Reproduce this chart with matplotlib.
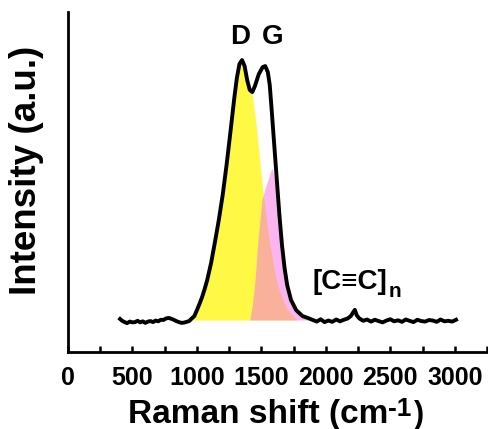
import numpy as np
import matplotlib
matplotlib.use("Agg")
import matplotlib.pyplot as plt
from matplotlib.ticker import MultipleLocator

plt.rcParams['font.family'] = ['Liberation Sans', 'DejaVu Sans']
plt.rcParams['font.weight'] = 'bold'

# measured Raman spectrum (a.u., peak = 100)
shift = [404, 420, 440, 458, 480, 500, 520, 540, 560, 580, 600, 620, 640, 660, 680,
         700, 720, 740, 760, 780, 800, 820, 840, 860, 880, 900, 920, 940, 960, 980,
         1000, 1020, 1040, 1060, 1080, 1110, 1140, 1170, 1200, 1230, 1260, 1290, 1310,
         1330, 1350, 1370, 1390, 1410, 1430, 1450, 1480, 1510, 1530, 1550, 1565, 1580,
         1600, 1620, 1640, 1660, 1680, 1700, 1730, 1770, 1820, 1860, 1900, 1930, 1960,
         1990, 2020, 2050, 2080, 2110, 2140, 2170, 2195, 2210, 2225, 2240, 2260, 2290,
         2320, 2350, 2380, 2410, 2440, 2470, 2500, 2530, 2560, 2590, 2620, 2650, 2680,
         2710, 2740, 2770, 2800, 2830, 2860, 2890, 2920, 2950, 2980, 3010]
intensity = [0.4, -0.3, -0.8, -1.2, -0.6, -0.9, -0.8, -0.3, -0.9, -0.5, -1.1, -0.6, -0.4,
             -0.8, -0.2, -0.5, 0.1, 0.0, 0.6, 0.8, 0.5, 0.1, -0.4, -0.8, -1.1, -1.0, -0.7,
             -0.4, 0.6, 1.5, 3.8, 6.2, 8.8, 11.9, 15.4, 21.9, 30.0, 38.5, 48.1, 59.6, 72.3,
             85.4, 93.1, 98.5, 100.0, 97.7, 92.3, 88.5, 87.7, 90.0, 94.6, 97.3, 97.7, 95.4,
             90.4, 80.8, 67.3, 53.8, 40.4, 28.8, 20.0, 13.5, 7.7, 3.8, 1.5, 0.8, 0.0, -0.6,
             0.3, -0.8, -0.2, -0.7, 0.2, -0.5, 0.1, 0.6, 1.6, 2.8, 3.9, 1.8, 0.6, -0.3,
             0.2, -0.6, 0.1, -0.4, -0.9, -0.2, 0.3, -0.5, -0.1, -0.7, 0.2, -0.3, -0.8,
             0.1, -0.4, -0.6, 0.0, -0.2, -0.7, 0.2, -0.5, -0.3, -0.6, 0.1]

# fitted D band
d_shift = [950, 980, 1000, 1020, 1040, 1060, 1080, 1110, 1140, 1170, 1200, 1230, 1260,
           1290, 1310, 1330, 1345, 1360, 1380, 1400, 1430, 1460, 1490, 1515, 1540, 1560,
           1590, 1620, 1660, 1700, 1740, 1780]
d_band = [0.0, 1.2, 3.5, 5.8, 8.5, 11.5, 15.0, 21.5, 29.6, 38.0, 47.7, 59.2, 71.9, 85.0,
          92.7, 98.0, 99.2, 98.5, 95.0, 90.0, 86.5, 75.0, 60.0, 48.0, 38.5, 31.0, 22.0,
          14.5, 8.5, 4.2, 1.8, 0.0]

# fitted G band
g_shift = [1410, 1430, 1451, 1474, 1505, 1530, 1550, 1570, 1583, 1600, 1620, 1640, 1660,
           1680, 1700, 1730, 1770, 1820, 1880]
g_band = [0.0, 5.8, 15.4, 30.8, 46.2, 50.8, 53.8, 57.0, 58.5, 55.0, 46.5, 36.0, 26.0,
          18.0, 12.0, 6.5, 3.0, 1.0, 0.0]

fig = plt.figure(figsize=(4.88, 4.29), dpi=100)
ax = fig.add_axes([0.1393, 0.1795, 0.8586, 0.7925])

ax.fill_between(d_shift, 0, d_band, color='#FFF845', lw=0)
ax.fill_between(g_shift, 0, g_band, color='#F677E4', alpha=0.55, lw=0)
ax.plot(shift, intensity, color='black', lw=2.8)

ax.text(1335, 108.8, "D", fontsize=20, fontweight='bold', ha='center', va='center')
ax.text(1590, 108.8, "G", fontsize=20, fontweight='bold', ha='center', va='center')
cc = ax.text(1895, 14.6, "[C≡C]", fontsize=20, fontweight='bold', ha='left', va='center')
ax.annotate("n", xy=(1, 0), xycoords=cc, xytext=(1, -4), textcoords='offset points',
            fontsize=15, fontweight='bold', ha='left', va='bottom')

ax.set_xlim(0, 3250)
ax.set_ylim(-12.3, 118.5)
ax.spines['top'].set_visible(False)
ax.spines['right'].set_visible(False)
for s in ('left', 'bottom'):
    ax.spines[s].set_linewidth(2)
ax.set_yticks([])
ax.xaxis.set_major_locator(MultipleLocator(500))
ax.xaxis.set_minor_locator(MultipleLocator(250))
ax.set_xticks(range(0, 3001, 500))
ax.tick_params(axis='x', which='both', direction='in', length=4.5, width=1.8,
               labelsize=18, pad=10)
for lab in ax.get_xticklabels():
    lab.set_fontweight('bold')

ax.set_ylabel("Intensity (a.u.)", fontsize=26.5, fontweight='bold', labelpad=17)
ax.yaxis.label.set_y(0.535)

# x label built from pieces so "-1" can be raised and smaller
fig.canvas.draw()
r = fig.canvas.get_renderer()
W, H = fig.get_size_inches() * fig.dpi
x0 = 128 / W
yb = 6 / H
t1 = fig.text(x0, yb, "Raman shift (cm", fontsize=24, fontweight='bold', va='baseline')
w1 = t1.get_window_extent(r).width / W
t2 = fig.text(x0 + w1, yb + 7 / H, "-1", fontsize=19, fontweight='bold', va='baseline')
w2 = t2.get_window_extent(r).width / W
fig.text(x0 + w1 + w2 + 2 / W, yb, ")", fontsize=22, fontweight='bold', va='baseline')

fig.savefig("out.png", dpi=100)
